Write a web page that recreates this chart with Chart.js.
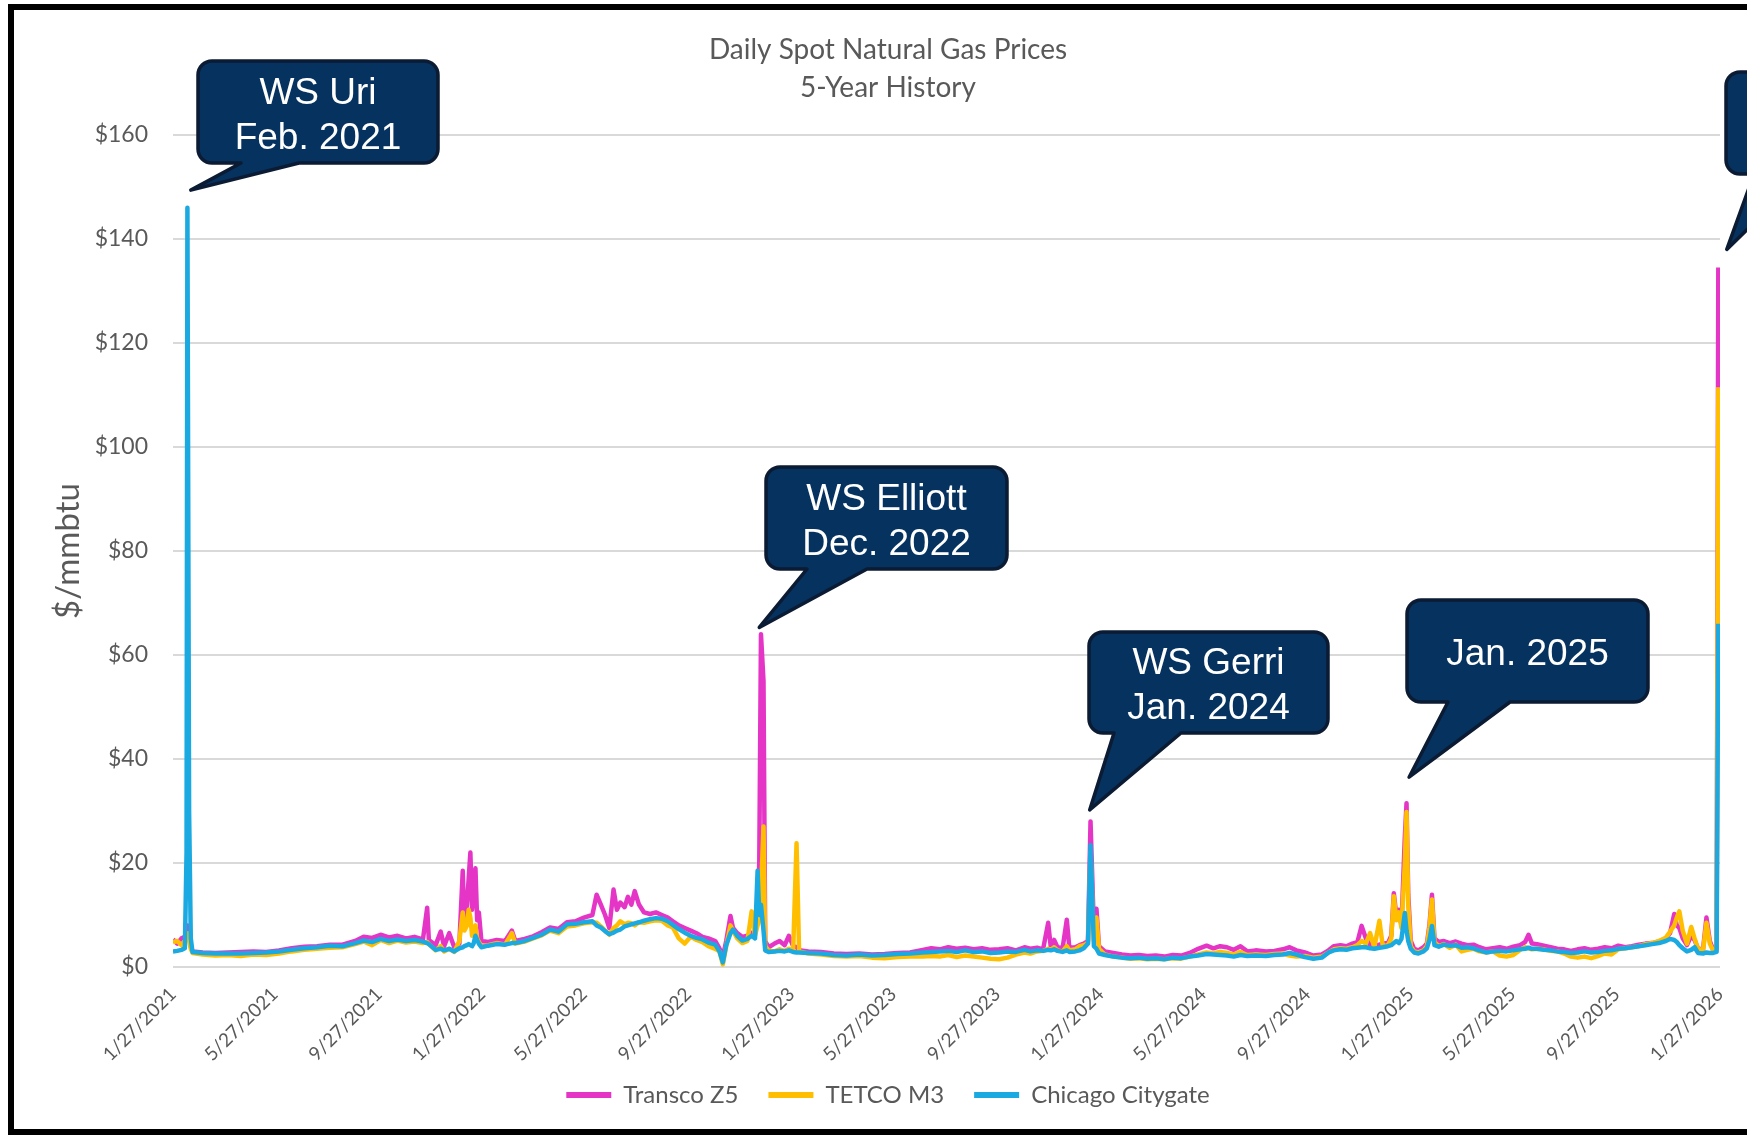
<!DOCTYPE html>
<html>
<head>
<meta charset="utf-8">
<title>Daily Spot Natural Gas Prices</title>
<script src="https://cdn.jsdelivr.net/npm/chart.js@4.4.1/dist/chart.umd.min.js"></script>
<style>
    html, body { margin: 0; padding: 0; background: #fff; overflow: hidden; }
    #frame {
        position: absolute; left: 8px; top: 4px;
        width: 1800px; height: 1119px;
        border: 6px solid #000; border-right: none;
        background: #fff;
    }
    #chart-canvas { position: absolute; left: 0; top: 0; }
</style>
</head>
<body>
<div id="frame"><canvas id="chart-canvas" width="1748" height="1119"></canvas></div>
<script>
// days counted from 1/27/2021
const days = [
    0, 5, 10, 14, 16, 17, 19, 21, 23, 35,
    50, 65, 80, 95, 110, 125, 140, 155, 170, 185,
    200, 215, 225, 235, 245, 255, 265, 275, 285, 295,
    300, 302, 310, 316, 320, 326, 332, 338, 342, 344,
    347, 349, 351, 353, 355, 357, 359, 361, 364, 372,
    382, 392, 400, 404, 415, 425, 435, 445, 455, 465,
    475, 485, 495, 500, 505, 510, 515, 520, 524, 528,
    533, 537, 541, 545, 550, 556, 563, 570, 577, 584,
    590, 597, 604, 611, 618, 625, 632, 640, 645, 649,
    653, 658, 661, 666, 672, 678, 683, 687, 690, 692,
    694, 697, 699, 703, 710, 716, 722, 727, 732, 736,
    739, 750, 765, 780, 795, 810, 825, 840, 855, 870,
    885, 895, 905, 915, 925, 935, 945, 955, 965, 975,
    985, 995, 1005, 1012, 1020, 1027, 1033, 1036, 1040, 1044,
    1050, 1055, 1058, 1065, 1070, 1075, 1080, 1083, 1087, 1090,
    1093, 1100, 1110, 1120, 1130, 1140, 1150, 1160, 1170, 1180,
    1190, 1200, 1210, 1220, 1228, 1236, 1244, 1252, 1260, 1268,
    1278, 1290, 1300, 1310, 1318, 1326, 1336, 1346, 1356, 1364,
    1370, 1378, 1385, 1392, 1398, 1403, 1408, 1413, 1418, 1424,
    1428, 1434, 1438, 1441, 1444, 1447, 1450, 1454, 1456, 1458,
    1461, 1465, 1470, 1476, 1480, 1483, 1486, 1489, 1494, 1500,
    1507, 1514, 1521, 1528, 1535, 1542, 1550, 1558, 1566, 1574,
    1582, 1590, 1596, 1600, 1604, 1610, 1618, 1626, 1634, 1642,
    1650, 1658, 1666, 1674, 1682, 1690, 1698, 1706, 1714, 1722,
    1730, 1738, 1746, 1754, 1762, 1767, 1772, 1775, 1778, 1782,
    1787, 1792, 1796, 1800, 1806, 1810, 1814, 1818, 1822, 1824
];

const transcoZ5 = [
    5.3, 4.5, 5.5, 5.8, 7, 8, 6, 4, 3.0, 2.8,
    2.7, 2.8, 2.9, 3.0, 2.9, 3.2, 3.6, 3.9, 4.0, 4.3,
    4.3, 5.0, 5.8, 5.6, 6.2, 5.7, 6.0, 5.5, 5.8, 5.3,
    11.4, 5.2, 4.2, 6.8, 4.0, 6.5, 3.8, 4.5, 18.5, 8,
    12, 17, 22, 11, 16, 19, 9, 10.5, 5.0, 4.8,
    5.2, 5.0, 7.0, 5.0, 5.4, 5.9, 6.7, 7.6, 7.3, 8.6,
    8.8, 9.5, 10.0, 13.9, 12.0, 10.0, 7.5, 14.9, 11.0, 12.4,
    11.5, 13.5, 12.0, 14.6, 12.0, 10.5, 10.2, 10.5, 10.0, 9.5,
    8.8, 8.0, 7.5, 7.0, 6.5, 5.8, 5.5, 5.0, 3.6, 2.0,
    5.0, 9.8, 7.5, 6.5, 5.8, 6.0, 6.5, 7.0, 12.0, 20.0,
    64.0, 55.0, 5.0, 3.8, 4.5, 5.0, 4.2, 6.0, 4.0, 3.8,
    3.2, 3.0, 2.9, 2.6, 2.5, 2.6, 2.4, 2.5, 2.7, 2.8,
    3.3, 3.6, 3.4, 3.8, 3.5, 3.7, 3.4, 3.6, 3.3, 3.4,
    3.6, 3.2, 3.8, 3.5, 3.7, 3.4, 8.5, 4.0, 5.2, 3.8,
    3.6, 9.1, 3.7, 3.8, 4.2, 4.5, 5.0, 28.0, 7.0, 11.2,
    4.0, 3.0, 2.7, 2.4, 2.2, 2.3, 2.1, 2.2, 2.0, 2.3,
    2.2, 2.7, 3.5, 4.1, 3.6, 4.0, 3.8, 3.3, 4.0, 3.0,
    3.2, 3.0, 3.1, 3.4, 3.8, 3.2, 2.8, 2.2, 2.4, 3.2,
    4.0, 4.2, 4.0, 4.5, 4.8, 7.9, 5.5, 4.2, 4.0, 4.3,
    4.5, 4.6, 6.0, 14.2, 9.8, 11.0, 8.0, 25.0, 31.5, 14.0,
    5.0, 3.5, 3.2, 3.8, 4.5, 8.0, 13.9, 5.5, 4.8, 5.0,
    4.6, 4.9, 4.5, 4.2, 4.3, 3.8, 3.4, 3.6, 3.8, 3.5,
    3.9, 4.2, 4.8, 6.2, 4.5, 4.4, 4.1, 3.8, 3.5, 3.4,
    3.1, 3.4, 3.6, 3.3, 3.5, 3.8, 3.6, 4.1, 3.8, 4.0,
    4.3, 4.5, 4.6, 4.9, 5.5, 6.5, 10.2, 8.0, 7.5, 5.5,
    4.2, 6.0, 5.2, 3.5, 3.4, 9.5, 5.0, 3.3, 3.5, 134.5
];

const tetcoM3 = [
    4.8, 5.0, 4.2, 5.0, 6, 6.5, 5, 3.5, 2.7, 2.4,
    2.2, 2.3, 2.1, 2.4, 2.3, 2.6, 3.0, 3.3, 3.5, 3.7,
    3.8, 4.4, 4.9, 4.2, 5.2, 4.6, 5.1, 4.7, 4.9, 4.6,
    4.8, 4.4, 3.2, 4.0, 3.0, 3.5, 2.9, 5.0, 10.5, 7,
    8, 11, 9.5, 6, 7, 8, 5.5, 4.8, 4.0, 4.2,
    4.6, 4.3, 6.5, 4.5, 4.9, 5.5, 6.1, 7.0, 6.5, 7.8,
    8.0, 8.4, 8.6, 8.5, 7.8, 7.0, 6.2, 7.5, 8.0, 8.8,
    8.2, 8.5, 8.4, 8.0, 8.6, 8.5, 8.8, 9.0, 8.9, 8.0,
    7.6, 5.5, 4.5, 5.8, 5.2, 4.8, 4.0, 3.5, 3.0, 0.5,
    4.0, 8.0, 7.0, 5.5, 4.6, 5.0, 10.7, 6.0, 8.0, 9.0,
    14.0, 27.0, 4.0, 3.2, 3.0, 3.4, 3.1, 3.5, 3.2, 23.8,
    3.0, 2.6, 2.4, 2.1, 2.0, 2.1, 1.8, 1.7, 1.9, 2.0,
    2.0, 2.1, 2.0, 2.3, 1.9, 2.2, 2.0, 1.8, 1.6, 1.5,
    1.8, 2.4, 2.8, 2.6, 3.0, 3.1, 3.5, 3.3, 3.8, 3.2,
    3.0, 4.0, 3.2, 3.4, 4.0, 4.2, 4.6, 22.0, 5.0, 9.5,
    3.5, 2.4, 2.0, 1.8, 1.6, 1.7, 1.5, 1.6, 1.5, 1.7,
    1.6, 2.0, 2.4, 2.8, 2.6, 2.9, 2.7, 2.4, 2.9, 2.3,
    2.4, 2.3, 2.5, 2.6, 2.2, 2.0, 2.1, 1.8, 2.0, 2.8,
    3.4, 3.6, 3.5, 3.8, 4.2, 5.0, 4.5, 6.5, 3.8, 8.9,
    4.0, 4.2, 5.5, 13.6, 9.0, 10.5, 7.5, 20.0, 29.8, 12.0,
    4.0, 3.0, 2.8, 3.2, 4.0, 7.5, 13.0, 4.8, 4.0, 4.4,
    3.7, 4.3, 3.0, 3.3, 3.5, 3.0, 2.8, 3.0, 2.2, 2.0,
    2.3, 3.3, 3.8, 3.6, 3.4, 3.5, 3.4, 3.1, 3.0, 2.6,
    2.0, 1.8, 2.0, 1.7, 2.1, 2.6, 2.4, 3.4, 3.6, 3.8,
    4.0, 4.4, 4.6, 5.0, 5.6, 6.8, 8.0, 9.5, 10.7, 7.0,
    4.5, 7.7, 5.5, 3.5, 3.2, 8.5, 4.5, 3.1, 3.3, 111.5
];

const chicagoCitygate = [
    3.0, 3.1, 3.3, 3.6, 22, 146, 30, 5.5, 2.9, 2.7,
    2.6, 2.6, 2.6, 2.7, 2.8, 3.0, 3.3, 3.6, 3.8, 4.1,
    4.0, 4.6, 5.1, 4.8, 5.4, 5.0, 5.3, 5.0, 5.2, 4.9,
    4.6, 4.4, 3.3, 3.5, 3.2, 3.5, 3.0, 3.6, 3.8, 4.0,
    4.2, 4.4, 4.2, 4.0, 4.6, 6.0, 5.2, 4.5, 3.8, 4.1,
    4.4, 4.3, 4.6, 4.6, 5.0, 5.6, 6.2, 7.2, 6.8, 8.2,
    8.3, 8.6, 8.8, 8.0, 7.6, 6.9, 6.3, 6.6, 7.0, 7.2,
    7.8, 8.0, 8.2, 8.4, 8.6, 8.9, 9.2, 9.4, 9.3, 8.8,
    8.1, 7.3, 6.6, 6.0, 5.6, 5.3, 4.7, 4.3, 3.0, 0.9,
    4.2, 6.5, 7.2, 6.0, 5.1, 5.4, 6.0, 5.5, 18.5, 10.0,
    12.0, 7.0, 3.2, 2.9, 3.0, 3.1, 3.0, 3.2, 2.9, 2.8,
    2.8, 2.7, 2.6, 2.3, 2.2, 2.4, 2.2, 2.3, 2.5, 2.6,
    2.8, 2.9, 3.0, 3.1, 2.9, 3.2, 2.9, 3.0, 2.7, 2.8,
    3.0, 2.9, 3.3, 3.0, 3.2, 3.1, 3.3, 3.2, 3.4, 3.1,
    2.9, 3.2, 2.9, 3.0, 3.2, 3.6, 4.5, 23.4, 4.0, 3.5,
    2.6, 2.3, 2.0, 1.8, 1.7, 1.8, 1.6, 1.7, 1.5, 1.8,
    1.7, 2.0, 2.2, 2.5, 2.4, 2.3, 2.2, 2.0, 2.3, 2.1,
    2.2, 2.1, 2.3, 2.4, 2.7, 2.4, 1.9, 1.6, 1.8, 2.8,
    3.2, 3.4, 3.3, 3.6, 3.7, 3.8, 3.8, 3.6, 3.5, 3.7,
    3.8, 4.0, 4.2, 4.6, 5.0, 4.6, 5.4, 10.4, 7.0, 5.0,
    3.5, 2.8, 2.6, 3.0, 3.6, 5.2, 7.9, 4.2, 3.9, 4.3,
    4.1, 4.2, 3.7, 3.8, 3.6, 3.2, 2.8, 3.0, 3.1, 3.0,
    3.2, 3.4, 3.5, 3.7, 3.5, 3.5, 3.3, 3.2, 3.0, 2.9,
    2.7, 2.8, 3.0, 2.8, 2.9, 3.1, 3.2, 3.5, 3.6, 3.8,
    4.0, 4.2, 4.4, 4.6, 5.0, 5.4, 5.2, 4.8, 4.2, 3.6,
    3.0, 3.3, 3.8, 2.7, 2.6, 2.8, 2.7, 2.7, 2.9, 66.0
];

const xTickLabels = [
    '1/27/2021', '5/27/2021', '9/27/2021', '1/27/2022', '5/27/2022', '9/27/2022',
    '1/27/2023', '5/27/2023', '9/27/2023', '1/27/2024', '5/27/2024', '9/27/2024',
    '1/27/2025', '5/27/2025', '9/27/2025', '1/27/2026'
];

// callout boxes in canvas px, tip pointing at (day, price)
const callouts = [
    { lines: ['WS Uri', 'Feb. 2021'], box: [184, 51, 240, 102], base: [227, 285], tip: [21, 149.4] },
    { lines: ['WS Elliott', 'Dec. 2022'], box: [752, 457, 241, 102], base: [793, 853], tip: [692, 65.3] },
    { lines: ['WS Gerri', 'Jan. 2024'], box: [1075, 622, 239, 101], base: [1100, 1167], tip: [1082, 30.2] },
    { lines: ['Jan. 2025'], box: [1393, 590, 241, 102], base: [1434, 1496], tip: [1459, 36.5] },
    { lines: [], box: [1712, 62, 241, 102], base: [1740, 1790], tip: [1834, 138] }
];

const START = Date.UTC(2021, 0, 27);
const xTickDays = xTickLabels.map(function(label) {
    const parts = label.split('/').map(Number);
    return Math.round((Date.UTC(parts[2], parts[0] - 1, parts[1]) - START) / 86400000);
});

const GREY = '#595959';
const FONT = 'Lato';

function points(values) {
    return days.map((d, i) => ({ x: d, y: values[i] }));
}

function series(label, values, color, order) {
    return {
        label: label,
        data: points(values),
        borderColor: color,
        backgroundColor: color,
        borderWidth: 4.5,
        pointRadius: 0,
        tension: 0,
        borderJoinStyle: 'round',
        order: order
    };
}

function calloutPath(ctx, x, y, w, h, r, b1, b2, tx, ty) {
    ctx.beginPath();
    ctx.moveTo(x + r, y);
    ctx.lineTo(x + w - r, y);
    ctx.arcTo(x + w, y, x + w, y + r, r);
    ctx.lineTo(x + w, y + h - r);
    ctx.arcTo(x + w, y + h, x + w - r, y + h, r);
    ctx.lineTo(b2, y + h);
    ctx.lineTo(tx, ty);
    ctx.lineTo(b1, y + h);
    ctx.lineTo(x + r, y + h);
    ctx.arcTo(x, y + h, x, y + h - r, r);
    ctx.lineTo(x, y + r);
    ctx.arcTo(x, y, x + r, y, r);
    ctx.closePath();
}

const calloutPlugin = {
    id: 'callouts',
    afterDraw(chart) {
        const ctx = chart.ctx;
        const xs = chart.scales.x;
        const ys = chart.scales.y;
        ctx.save();
        callouts.forEach(c => {
            const [x, y, w, h] = c.box;
            const tx = xs.getPixelForValue(c.tip[0]);
            const ty = ys.getPixelForValue(c.tip[1]);
            calloutPath(ctx, x, y, w, h, 14, c.base[0], c.base[1], tx, ty);
            ctx.fillStyle = '#06325F';
            ctx.fill();
            ctx.lineWidth = 3.5;
            ctx.lineJoin = 'round';
            ctx.strokeStyle = '#0B1B33';
            ctx.stroke();

            ctx.fillStyle = '#FFFFFF';
            ctx.font = '37px "Liberation Sans", Arial, sans-serif';
            ctx.textAlign = 'center';
            ctx.textBaseline = 'middle';
            const lh = 45;
            const cy = y + h / 2 + 4 - (c.lines.length - 1) * lh / 2;
            c.lines.forEach((line, i) => ctx.fillText(line, x + w / 2, cy + i * lh));
        });
        ctx.restore();
    }
};

const ctx = document.getElementById('chart-canvas').getContext('2d');
new Chart(ctx, {
    type: 'line',
    data: {
        datasets: [
            series('Transco Z5', transcoZ5, '#E535C6', 2),
            series('TETCO M3', tetcoM3, '#FFBF00', 1),
            series('Chicago Citygate', chicagoCitygate, '#1BA9E1', 0)
        ]
    },
    options: {
        responsive: false,
        animation: false,
        layout: { padding: { left: 0, right: 0, top: 0, bottom: 12 } },
        plugins: {
            title: {
                display: true,
                text: ['Daily Spot Natural Gas Prices', '5-Year History'],
                color: GREY,
                font: { family: FONT, size: 28, weight: 'normal', lineHeight: '38px' },
                padding: { top: 21, bottom: 28 }
            },
            legend: {
                position: 'bottom',
                labels: {
                    color: GREY,
                    font: { family: FONT, size: 24 },
                    boxWidth: 45,
                    boxHeight: 6,
                    padding: 30,
                    generateLabels: chart => Chart.defaults.plugins.legend.labels.generateLabels(chart)
                        .map(item => Object.assign(item, { lineWidth: 0 })),
                    sort: (a, b) => a.datasetIndex - b.datasetIndex
                }
            },
            tooltip: { enabled: false }
        },
        scales: {
            x: {
                type: 'linear',
                min: 0,
                max: 1826,
                grid: { display: false },
                border: { display: false },
                afterBuildTicks: scale => { scale.ticks = xTickDays.map(v => ({ value: v })); },
                afterFit: scale => {
                    scale.height = 86;
                    // rotated labels run a little past the axis box, don't clip them
                    scale._computeLabelArea = () => undefined;
                },
                ticks: {
                    autoSkip: false,
                    minRotation: 45,
                    maxRotation: 45,
                    padding: 8,
                    color: GREY,
                    font: { family: FONT, size: 19 },
                    callback: value => xTickLabels[xTickDays.indexOf(value)]
                }
            },
            y: {
                min: 0,
                max: 160,
                ticks: {
                    stepSize: 20,
                    padding: 25,
                    color: GREY,
                    font: { family: FONT, size: 23 },
                    callback: value => '$' + value
                },
                grid: { color: '#D9D9D9', lineWidth: 2, drawTicks: false },
                border: { display: false },
                title: {
                    display: true,
                    text: '$/mmbtu',
                    color: GREY,
                    font: { family: FONT, size: 33 },
                    padding: { top: 35, bottom: 0 }
                },
                afterFit: scale => { scale.width = 159; }
            },
            yRight: {
                position: 'right',
                grid: { display: false },
                border: { display: false },
                ticks: { display: false },
                afterFit: scale => { scale.width = 42; }
            }
        }
    },
    plugins: [calloutPlugin]
});
</script>
</body>
</html>
